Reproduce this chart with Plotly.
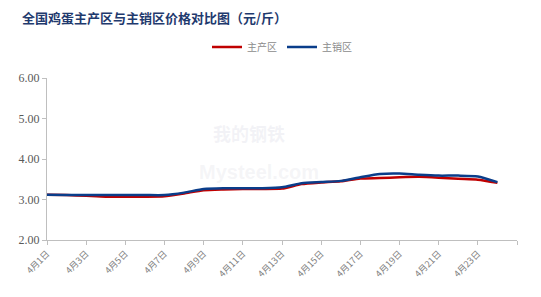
import plotly.graph_objects as go

days = list(range(1, 25))
tick_days = list(range(1, 26, 2))
tick_labels = [f"4月{d}日" for d in range(1, 24, 2)] + [""]

main_prod = [3.12, 3.11, 3.09, 3.07, 3.07, 3.07, 3.08, 3.15, 3.23, 3.25, 3.26, 3.26,
             3.27, 3.38, 3.42, 3.45, 3.52, 3.53, 3.55, 3.56, 3.54, 3.51, 3.49, 3.41]
main_sale = [3.12, 3.11, 3.11, 3.11, 3.11, 3.11, 3.11, 3.17, 3.26, 3.28, 3.28, 3.28,
             3.30, 3.40, 3.43, 3.46, 3.55, 3.63, 3.64, 3.61, 3.59, 3.59, 3.57, 3.43]

fig = go.Figure()
fig.add_trace(go.Scatter(x=days, y=main_prod, name="主产区", mode="lines",
                         line=dict(color="#C00000", width=2.5, shape="spline", smoothing=0.6)))
fig.add_trace(go.Scatter(x=days, y=main_sale, name="主销区", mode="lines",
                         line=dict(color="#0A3D8A", width=2.5, shape="spline", smoothing=0.6)))

fig.add_annotation(text="<b>我的钢铁</b>", x=0.43, y=0.66, xref="paper", yref="paper",
                   showarrow=False, font=dict(size=18, color="rgba(205,205,220,0.25)",
                                              family="Noto Sans CJK SC"))
fig.add_annotation(text="<b>Mysteel.com</b>", x=0.45, y=0.42, xref="paper", yref="paper",
                   showarrow=False, font=dict(size=20, color="rgba(205,205,215,0.2)",
                                              family="Liberation Sans"))

fig.update_layout(
    width=541, height=297,
    margin=dict(l=47, r=24, t=78, b=57),
    paper_bgcolor="white", plot_bgcolor="white",
    title=dict(text="<b>全国鸡蛋主产区与主销区价格对比图（元/斤）</b>",
               x=22 / 541, xanchor="left", y=1 - 18 / 297, yanchor="middle",
               font=dict(family="Noto Sans CJK SC", size=13, color="#1F3A6E")),
    legend=dict(orientation="h", x=0.5, xanchor="center", y=1 + 31 / 162, yanchor="middle",
                font=dict(family="Noto Sans CJK SC", size=10, color="#8C8C8C"),
                itemwidth=30, bgcolor="rgba(0,0,0,0)"),
    showlegend=True,
)
fig.update_xaxes(range=[1, 25], tickmode="array", tickvals=tick_days, ticktext=tick_labels,
                 tickangle=-45, showgrid=False, zeroline=False,
                 showline=True, linecolor="#BFBFBF", linewidth=1,
                 ticks="outside", ticklen=4, tickcolor="#BFBFBF",
                 tickfont=dict(family="Noto Sans CJK SC", size=9, color="#808080"))
fig.update_yaxes(range=[2, 6], dtick=1, tickformat=".2f", showgrid=False, zeroline=False,
                 showline=True, linecolor="#BFBFBF", linewidth=1,
                 ticks="outside", ticklen=4, tickcolor="#BFBFBF",
                 tickfont=dict(family="Liberation Serif", size=12, color="#595959"))

fig.write_html("out.html")
